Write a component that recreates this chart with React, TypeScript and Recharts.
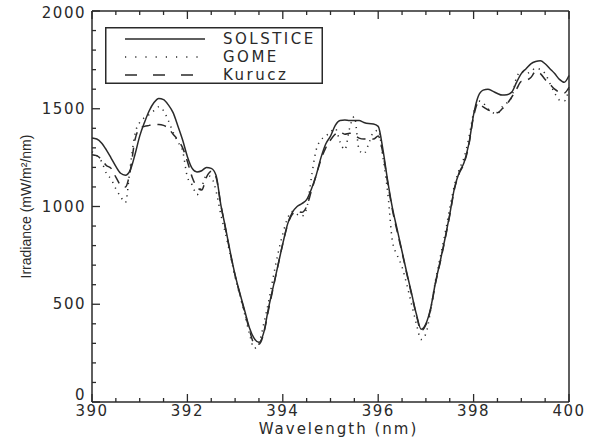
import React from 'react';
import { LineChart, Line, XAxis, YAxis } from 'recharts';

// Ca II H & K region, 390-400 nm, three solar irradiance spectra (mW/m²/nm)
const WAVELENGTH = [
  390.0, 390.1, 390.2, 390.3, 390.4, 390.5, 390.6, 390.7, 390.8, 390.9,
  391.0, 391.1, 391.2, 391.3, 391.4, 391.5, 391.6, 391.7, 391.8, 391.9,
  392.0, 392.1, 392.2, 392.3, 392.4, 392.5, 392.6, 392.7, 392.8, 392.9,
  393.0, 393.1, 393.2, 393.3, 393.4, 393.5, 393.6, 393.7, 393.8, 393.9,
  394.0, 394.1, 394.2, 394.3, 394.4, 394.5, 394.6, 394.7, 394.8, 394.9,
  395.0, 395.1, 395.2, 395.3, 395.4, 395.5, 395.6, 395.7, 395.8, 395.9,
  396.0, 396.1, 396.2, 396.3, 396.4, 396.5, 396.6, 396.7, 396.8, 396.9,
  397.0, 397.1, 397.2, 397.3, 397.4, 397.5, 397.6, 397.7, 397.8, 397.9,
  398.0, 398.1, 398.2, 398.3, 398.4, 398.5, 398.6, 398.7, 398.8, 398.9,
  399.0, 399.1, 399.2, 399.3, 399.4, 399.5, 399.6, 399.7, 399.8, 399.9,
  400.0,
];

const SOLSTICE = [
  1350, 1345, 1325, 1290, 1248, 1205, 1170, 1160, 1185, 1265,
  1360, 1430, 1490, 1532, 1553, 1547, 1520, 1480, 1412, 1340,
  1255, 1195, 1177, 1183, 1200, 1195, 1160, 1010, 890, 765,
  650, 556, 468, 380, 325, 305, 355, 480, 590, 700,
  810, 910, 970, 1000, 1015, 1035, 1090, 1160, 1250, 1320,
  1360, 1415, 1440, 1442, 1440, 1440, 1440, 1430, 1424, 1422,
  1410, 1290, 1130, 990, 880, 770, 660, 555, 450, 372,
  400, 480, 610, 720, 835, 960, 1095, 1175, 1225, 1320,
  1470, 1565, 1595, 1600, 1590, 1578, 1570, 1572, 1585, 1635,
  1680, 1705, 1730, 1742, 1746, 1730, 1705, 1680, 1650, 1635,
  1670,
];

const GOME = [
  1280, 1260, 1230, 1170, 1140, 1090, 1050, 1020, 1200, 1370,
  1430, 1455, 1470, 1490, 1510, 1490, 1440, 1380, 1330, 1285,
  1150, 1110, 1060, 1100, 1160, 1150, 1080, 960, 860, 750,
  640, 545, 450, 350, 275, 300, 400, 510, 640, 760,
  860, 940, 975, 960, 950, 990, 1150, 1290, 1340, 1360,
  1380, 1400, 1330, 1290, 1400, 1460, 1290, 1270, 1320, 1380,
  1390, 1250, 1070, 820, 750, 690, 600, 500, 400, 320,
  350, 470, 620, 740, 860, 990, 1110, 1190, 1250, 1350,
  1480, 1540, 1530, 1500, 1480, 1475, 1510, 1530, 1560, 1660,
  1690, 1680, 1690, 1708, 1700, 1680, 1630, 1580, 1545, 1540,
  1600,
];

const KURUCZ = [
  1265, 1260, 1240, 1210, 1195, 1150, 1110, 1100, 1180, 1340,
  1400, 1410, 1415, 1420, 1420, 1415, 1400, 1370, 1340, 1300,
  1230, 1150, 1100, 1085, 1150, 1180, 1150, 1010, 885, 760,
  648, 552, 462, 370, 300, 295, 350, 470, 585, 700,
  810, 905, 960, 975, 970, 1000, 1080, 1160, 1240, 1300,
  1340, 1370, 1380, 1370, 1375, 1365, 1350, 1345, 1350, 1345,
  1360, 1270, 1120, 980, 870, 765, 655, 550, 445, 365,
  395, 475, 605, 715, 830, 955, 1090, 1170, 1220, 1315,
  1460, 1530, 1510, 1495, 1485, 1480, 1500, 1525, 1560, 1600,
  1640, 1645, 1660, 1690, 1680, 1650, 1625, 1600, 1585, 1580,
  1610,
];

// every 0.5 nm, labelled every 2 nm
const X_TICKS = [
  390, 390.5, 391, 391.5, 392, 392.5, 393, 393.5, 394, 394.5, 395,
  395.5, 396, 396.5, 397, 397.5, 398, 398.5, 399, 399.5, 400,
];
// every 100, labelled every 500
const Y_TICKS = [
  0, 100, 200, 300, 400, 500, 600, 700, 800, 900, 1000,
  1100, 1200, 1300, 1400, 1500, 1600, 1700, 1800, 1900, 2000,
];

const SERIES = [
  { key: 'solstice', name: 'SOLSTICE', dash: undefined, legendDash: undefined },
  { key: 'gome', name: 'GOME', dash: '1.2 5', legendDash: '1.2 9' },
  { key: 'kurucz', name: 'Kurucz', dash: '9 7', legendDash: '12 16' },
];

const data = WAVELENGTH.map((wl, i) => ({
  wl,
  solstice: SOLSTICE[i],
  gome: GOME[i],
  kurucz: KURUCZ[i],
}));

const INK = '#2a2a2a';
const FONT = '"DejaVu Sans", sans-serif';

const isMajorX = (v: number) => Math.abs(v % 2) < 1e-6;
const isMajorY = (v: number) => v % 500 === 0;

// tickSize/tickMargin are 0, so x/y handed to these sit on the axis line;
// each draws an inward tick mark and, for major values, the label
function BottomTick({ x, y, payload }: any) {
  const px = Number(x);
  const py = Number(y);
  const major = isMajorX(payload.value);
  return (
    <g>
      <line x1={px} y1={py} x2={px} y2={py - (major ? 8 : 4)} stroke={INK} strokeWidth={1.3} />
      {major && (
        <text x={px} y={py + 14} textAnchor="middle" fontSize={15} letterSpacing={1.5}
          fontFamily={FONT} fill={INK}>
          {payload.value}
        </text>
      )}
    </g>
  );
}

function TopTick({ x, y, payload }: any) {
  const px = Number(x);
  const py = Number(y);
  const len = isMajorX(payload.value) ? 8 : 4;
  return <line x1={px} y1={py} x2={px} y2={py + len} stroke={INK} strokeWidth={1.3} />;
}

function LeftTick({ x, y, payload }: any) {
  const px = Number(x);
  const py = Number(y);
  const v = payload.value;
  const major = isMajorY(v);
  // end labels nudged so they stay clear of the corners
  const shift = v === 0 ? -7 : v === 2000 ? 2 : 0;
  return (
    <g>
      <line x1={px} y1={py} x2={px + (major ? 8 : 4)} y2={py} stroke={INK} strokeWidth={1.3} />
      {major && (
        <text x={px - 6} y={py + 5 + shift} textAnchor="end" fontSize={15} letterSpacing={1.5}
          fontFamily={FONT} fill={INK}>
          {v}
        </text>
      )}
    </g>
  );
}

function RightTick({ x, y, payload }: any) {
  const px = Number(x);
  const py = Number(y);
  const len = isMajorY(payload.value) ? 8 : 4;
  return <line x1={px} y1={py} x2={px - len} y2={py} stroke={INK} strokeWidth={1.3} />;
}

// boxed key in the upper-left corner of the plot
function LegendBox() {
  const rows = [12, 30, 48];
  return (
    <svg width={218} height={57} style={{ position: 'absolute', left: 105, top: 27 }}>
      <rect x={0.75} y={0.75} width={216.5} height={55.5} fill="#fff" stroke={INK} strokeWidth={1.5} />
      {SERIES.map((s, i) => (
        <g key={s.key}>
          <line x1={20} y1={rows[i]} x2={100} y2={rows[i]} stroke={INK} strokeWidth={1.5}
            strokeDasharray={s.legendDash} />
          <text x={118} y={rows[i] + 5} fontSize={15} letterSpacing={2.5} fontFamily={FONT} fill={INK}>
            {s.name}
          </text>
        </g>
      ))}
    </svg>
  );
}

export default function App() {
  return (
    <div style={{ position: 'absolute', left: 0, top: 0, width: 595, height: 439, background: '#fff' }}>
      <LineChart width={595} height={439} data={data} margin={{ top: 0, right: 0, bottom: 0, left: 0 }}>
        <XAxis
          dataKey="wl"
          type="number"
          domain={[390, 400]}
          ticks={X_TICKS}
          interval={0}
          height={37}
          tickSize={0}
          tickMargin={0}
          tickLine={false}
          axisLine={{ stroke: INK, strokeWidth: 1.5 }}
          tick={<BottomTick />}
          label={{
            content: ({ viewBox }: any) => (
              <text x={viewBox.x + viewBox.width / 2 + 8} y={viewBox.y + 32} textAnchor="middle"
                fontSize={15} letterSpacing={2} fontFamily={FONT} fill={INK}>
                Wavelength (nm)
              </text>
            ),
          }}
        />
        <XAxis
          xAxisId="top"
          orientation="top"
          dataKey="wl"
          type="number"
          domain={[390, 400]}
          ticks={X_TICKS}
          interval={0}
          height={11}
          tickSize={0}
          tickMargin={0}
          tickLine={false}
          axisLine={{ stroke: INK, strokeWidth: 1.5 }}
          tick={<TopTick />}
        />
        <YAxis
          type="number"
          domain={[0, 2000]}
          ticks={Y_TICKS}
          interval={0}
          width={92}
          tickSize={0}
          tickMargin={0}
          tickLine={false}
          axisLine={{ stroke: INK, strokeWidth: 1.5 }}
          tick={<LeftTick />}
          label={{
            content: ({ viewBox }: any) => {
              const cx = viewBox.x + 26;
              const cy = viewBox.y + viewBox.height / 2;
              return (
                <text x={cx} y={cy} transform={`rotate(-90 ${cx} ${cy})`} textAnchor="middle"
                  dominantBaseline="central" fontSize={14} fontFamily='"Liberation Sans", sans-serif'
                  fill={INK}>
                  Irradiance (mW/m²/nm)
                </text>
              );
            },
          }}
        />
        <YAxis
          yAxisId="right"
          orientation="right"
          type="number"
          domain={[0, 2000]}
          ticks={Y_TICKS}
          interval={0}
          width={26}
          tickSize={0}
          tickMargin={0}
          tickLine={false}
          axisLine={{ stroke: INK, strokeWidth: 1.5 }}
          tick={<RightTick />}
        />
        {SERIES.map((s) => (
          <Line
            key={s.key}
            dataKey={s.key}
            name={s.name}
            type="monotone"
            stroke={INK}
            strokeWidth={1.5}
            strokeDasharray={s.dash}
            dot={false}
            activeDot={false}
            isAnimationActive={false}
          />
        ))}
      </LineChart>
      <LegendBox />
    </div>
  );
}
